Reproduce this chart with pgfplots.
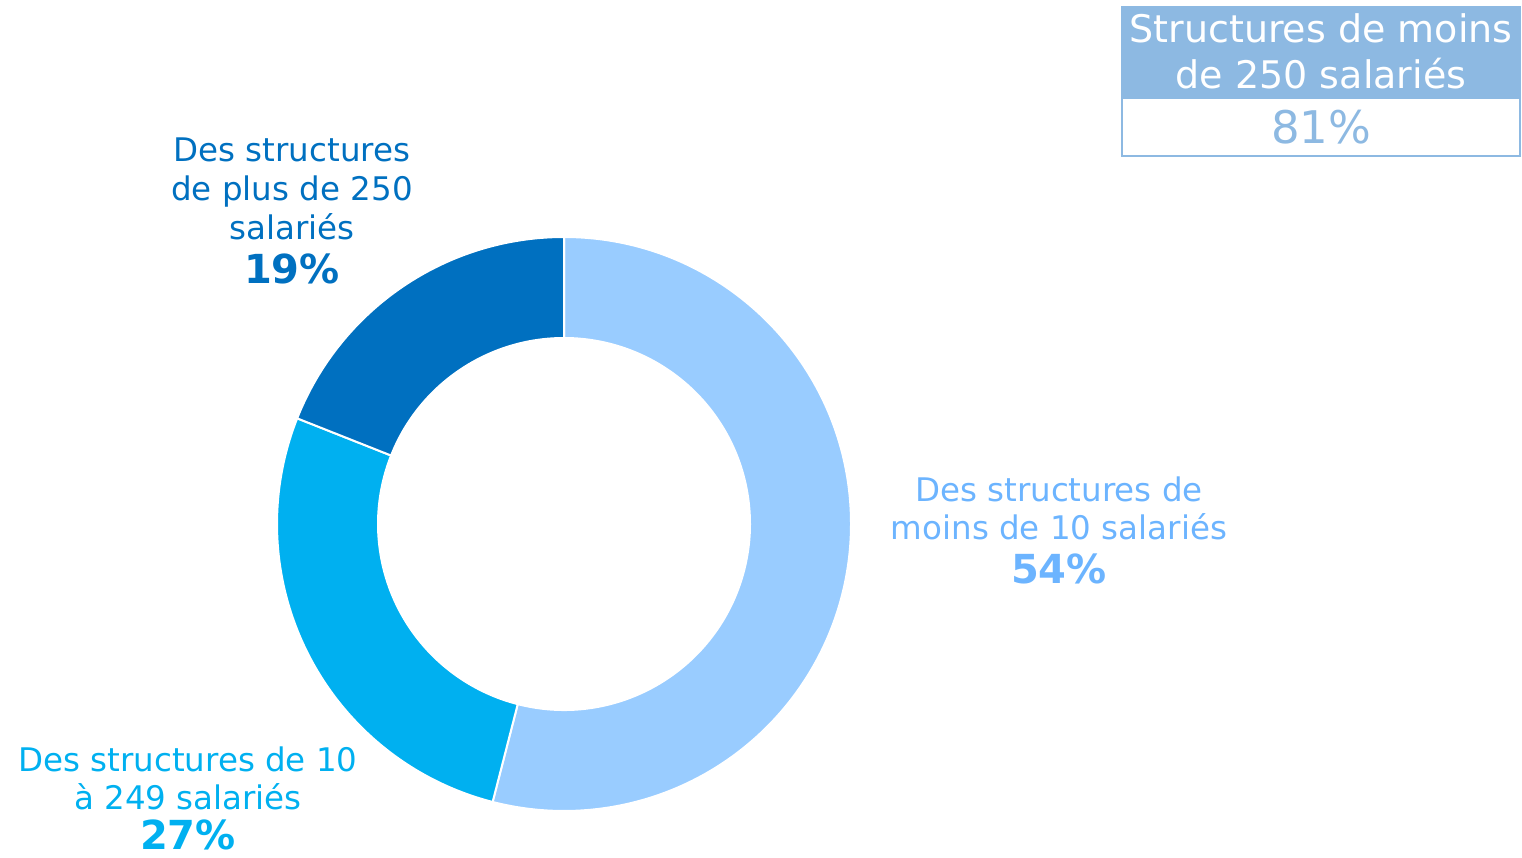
\documentclass[border=0pt]{standalone}
\usepackage{pgfplots}
\usepackage{pgfplotstable}
\pgfplotsset{compat=1.18}
\usepackage{fontspec}
\setmainfont{DejaVu Sans}
\definecolor{cA}{HTML}{99CCFF}
\definecolor{cB}{HTML}{00B0F0}
\definecolor{cC}{HTML}{0070C0}
\definecolor{tA}{HTML}{6CB4FF}
\definecolor{hdr}{HTML}{8DB9E2}
\pgfplotstableread{
share
54
27
19
}\shares
\pgfplotstablegetelem{0}{share}\of\shares \let\sA\pgfplotsretval
\pgfplotstablegetelem{1}{share}\of\shares \let\sB\pgfplotsretval
\pgfplotstablegetelem{2}{share}\of\shares \let\sC\pgfplotsretval
\pgfmathsetmacro{\aA}{90}
\pgfmathsetmacro{\aB}{90-3.6*\sA}
\pgfmathsetmacro{\aC}{\aB-3.6*\sB}
\pgfmathsetmacro{\aD}{\aC-3.6*\sC}
\newcommand\slice[3]{%
  \filldraw[fill=#3,draw=white,line width=2pt]
    ([shift={(#1:287pt)}]axis cs:564,334)
    arc[start angle=#1,end angle=#2,radius=287pt]
    -- ([shift={(#2:186pt)}]axis cs:564,334)
    arc[start angle=#2,end angle=#1,radius=186pt] -- cycle;}
\begin{document}%
\begin{tikzpicture}
\begin{axis}[x=1pt,y=1pt,xmin=0,xmax=1522,ymin=0,ymax=858,hide axis,clip=false]
\addplot[draw=none] coordinates {(0,0) (1522,858)};
\slice{\aA}{\aB}{cA}
\slice{\aB}{\aC}{cB}
\slice{\aC}{\aD}{cC}
% labels
\begin{scope}[every node/.style={anchor=base,inner sep=0pt}]
\node[text=tA,font=\fontsize{32.5}{39}\selectfont] at (axis cs:1059,356) {Des structures de};
\node[text=tA,font=\fontsize{32.5}{39}\selectfont] at (axis cs:1059,318) {moins de 10 salariés};
\node[text=tA,font=\fontsize{40}{44}\selectfont\bfseries] at (axis cs:1059,274) {54\%};
\node[text=cC,font=\fontsize{32.5}{39}\selectfont] at (axis cs:292,696) {Des structures};
\node[text=cC,font=\fontsize{32.5}{39}\selectfont] at (axis cs:292,657) {de plus de 250};
\node[text=cC,font=\fontsize{32.5}{39}\selectfont] at (axis cs:292,618) {salariés};
\node[text=cC,font=\fontsize{40}{44}\selectfont\bfseries] at (axis cs:292,574) {19\%};
\node[text=cB,font=\fontsize{32.5}{39}\selectfont] at (axis cs:188,86) {Des structures de 10};
\node[text=cB,font=\fontsize{32.5}{39}\selectfont] at (axis cs:188,48) {à 249 salariés};
\node[text=cB,font=\fontsize{40}{44}\selectfont\bfseries] at (axis cs:188,8) {27\%};
\end{scope}
% box
\fill[hdr] (axis cs:1121,760) rectangle (axis cs:1521,852);
\draw[hdr,line width=2pt] (axis cs:1122,702) rectangle (axis cs:1520,760);
\begin{scope}[every node/.style={anchor=base,inner sep=0pt}]
\node[text=white,font=\fontsize{38}{44}\selectfont] at (axis cs:1321,815) {Structures de moins};
\node[text=white,font=\fontsize{38}{44}\selectfont] at (axis cs:1321,769) {de 250 salariés};
\node[text=hdr,font=\fontsize{45}{50}\selectfont] at (axis cs:1321,714) {81\%};
\end{scope}
\end{axis}
\end{tikzpicture}%
\end{document}
